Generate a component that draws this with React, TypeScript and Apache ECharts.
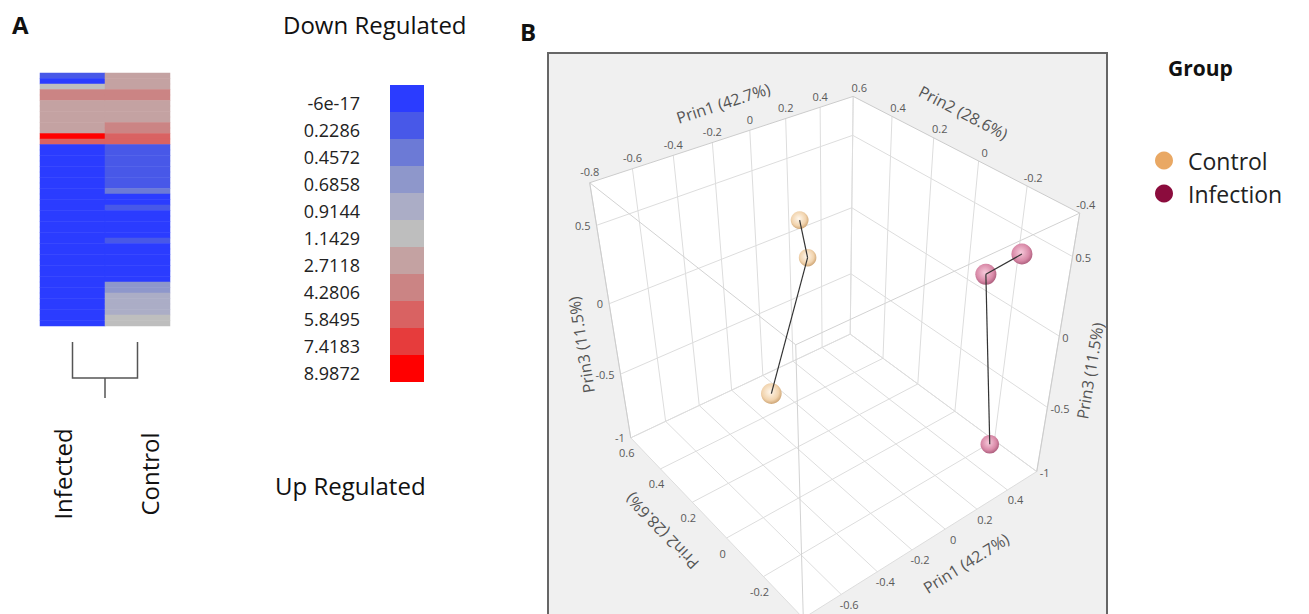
import React, { useEffect, useRef } from 'react';
import * as echarts from 'echarts';

const W = 1309;
const H = 614;
const FONT = 'Open Sans';

// ---------- Panel A data ----------
const heatColumns = ['Infected', 'Control'];
const legendLevels = [-6e-17, 0.2286, 0.4572, 0.6858, 0.9144, 1.1429, 2.7118, 4.2806, 5.8495, 7.4183, 8.9872];
const legendLabels = ['-6e-17', '0.2286', '0.4572', '0.6858', '0.9144', '1.1429', '2.7118', '4.2806', '5.8495', '7.4183', '8.9872'];
const legendColors = ['#2b3cff', '#4858e8', '#6c7ad6', '#8e97cb', '#abadc6', '#bebebe', '#c4a2a2', '#cb8484', '#d96262', '#e63c3c', '#ff0000'];
const infectedValues = [
  0.2286, 0, 1.1429, 4.2806, 4.2806, 2.7118, 2.7118, 2.7118, 2.7118, 2.7118, 2.7118, 8.9872, 5.8495,
  0, 0, 0, 0, 0, 0, 0, 0, 0, 0, 0, 0, 0, 0, 0, 0, 0, 0, 0, 0, 0, 0, 0, 0, 0, 0, 0, 0, 0, 0, 0, 0, 0,
];
const controlValues = [
  2.7118, 2.7118, 2.7118, 4.2806, 4.2806, 2.7118, 2.7118, 2.7118, 2.7118, 4.2806, 4.2806, 5.8495, 5.8495,
  0.2286, 0.2286, 0.2286, 0.2286, 0.2286, 0.2286, 0.2286, 0.2286, 0.4572,
  0, 0, 0.2286, 0, 0, 0, 0, 0, 0.2286, 0, 0, 0, 0, 0, 0, 0,
  0.6858, 0.6858, 0.9144, 0.9144, 0.9144, 0.9144, 1.1429, 1.1429,
];

// ---------- Panel B data ----------
const prin1Ticks = [-0.8, -0.6, -0.4, -0.2, 0, 0.2, 0.4, 0.6];
const prin2Ticks = [-0.4, -0.2, 0, 0.2, 0.4, 0.6];
const prin3Ticks = [-1, -0.5, 0, 0.5];
const prin1Range = [-0.8, 0.6];
const prin2Range = [-0.4, 0.6];
const prin3Range = [-1, 0.75];
const groupNames = ['Control', 'Infection'];
const groupColors = ['#E9A864', '#8B0C3D'];
const controlPrin1 = [0.1, 0.1, -0.6];
const controlPrin2 = [0.44, 0.4, -0.08];
const controlPrin3 = [0.26, 0.04, 0.0];
const infectionPrin1 = [0.35, 0.2, 0.3];
const infectionPrin2 = [-0.36, -0.33, -0.36];
const infectionPrin3 = [0.6, 0.53, -0.62];

// view calibration: where the box corners sit on the page (world -> page pixels)
const viewWorld = [
  [-0.8, 0.6, 0.75], [0.6, 0.6, 0.75], [0.6, -0.4, 0.75], [-0.8, 0.6, -1], [0.6, 0.6, -1], [0.6, -0.4, -1],
  [0.6, 0.6, 0], [-0.8, 0.6, 0], [0.6, -0.4, 0], [0, 0.6, 0.75], [-0.4, 0.6, 0.75], [0.4, 0.6, 0.75], [0.6, 0, 0.75], [0.6, 0.2, 0.75],
];
const viewScreen = [
  [590, 182], [853, 97], [1077, 210], [632, 438], [850, 333], [1037, 473],
  [851, 207], [608, 304], [1058, 336], [749, 131], [673, 155], [820, 108], [985, 164], [933, 137],
];

type Proj = { p: number[]; cx: number; cy: number; s: number };

function fitProjection(world: number[][], screen: number[][]): Proj {
  const cx = 830, cy = 330, s = 250;
  const A: number[][] = [];
  const b: number[] = [];
  world.forEach(([X, Y, Z], i) => {
    const u = (screen[i][0] - cx) / s;
    const v = (screen[i][1] - cy) / s;
    A.push([X, Y, Z, 1, 0, 0, 0, 0, -u * X, -u * Y, -u * Z]);
    b.push(u);
    A.push([0, 0, 0, 0, X, Y, Z, 1, -v * X, -v * Y, -v * Z]);
    b.push(v);
  });
  const n = 11;
  const M: number[][] = [];
  for (let i = 0; i < n; i++) {
    const row = new Array(n + 1).fill(0);
    for (let j = 0; j < n; j++) {
      let acc = 0;
      for (let k = 0; k < A.length; k++) acc += A[k][i] * A[k][j];
      row[j] = acc;
    }
    let t = 0;
    for (let k = 0; k < A.length; k++) t += A[k][i] * b[k];
    row[n] = t;
    M.push(row);
  }
  for (let c = 0; c < n; c++) {
    let piv = c;
    for (let r = c + 1; r < n; r++) if (Math.abs(M[r][c]) > Math.abs(M[piv][c])) piv = r;
    const tmp = M[c]; M[c] = M[piv]; M[piv] = tmp;
    for (let r = 0; r < n; r++) {
      if (r === c) continue;
      const f = M[r][c] / M[c][c];
      for (let k = c; k <= n; k++) M[r][k] -= f * M[c][k];
    }
  }
  return { p: M.map((row, i) => row[n] / row[i]), cx, cy, s };
}

function project(P: Proj, X: number, Y: number, Z: number) {
  const p = P.p;
  const w = p[8] * X + p[9] * Y + p[10] * Z + 1;
  const u = (p[0] * X + p[1] * Y + p[2] * Z + p[3]) / w;
  const v = (p[4] * X + p[5] * Y + p[6] * Z + p[7]) / w;
  return [u * P.s + P.cx, v * P.s + P.cy, w];
}

const App: React.FC = () => {
  const ref = useRef<HTMLDivElement>(null);
  useEffect(() => {
    if (!ref.current) return;
    const chart = echarts.init(ref.current, undefined, { renderer: 'svg' });
    const P = fitProjection(viewWorld, viewScreen);

    const controlPoints = controlPrin1.map((x, i) => [x, controlPrin2[i], controlPrin3[i]]);
    const infectionPoints = infectionPrin1.map((x, i) => [x, infectionPrin2[i], infectionPrin3[i]]);

    const heatData: number[][] = [];
    infectedValues.forEach((v, r) => heatData.push([0, r, v]));
    controlValues.forEach((v, r) => heatData.push([1, r, v]));

    const pieces = legendLevels.map((lv, i) => {
      const piece: any = { label: `{v|${legendLabels[i]}}`, color: legendColors[i] };
      if (i > 0) piece.gte = lv;
      if (i < legendLevels.length - 1) piece.lt = legendLevels[i + 1];
      return piece;
    });

    const z1 = prin3Range[1], z0 = prin3Range[0];
    const x0 = prin1Range[0], x1 = prin1Range[1];
    const y0 = prin2Range[0], y1 = prin2Range[1];

    const renderBox = (params: any, api: any) => {
      const pt = (X: number, Y: number, Z: number) => {
        const q = project(P, X, Y, Z);
        return api.coord([q[0], q[1]]);
      };
      const children: any[] = [];
      const poly = (ps: number[][]) => ({ type: 'polygon', shape: { points: ps }, style: { fill: '#ffffff' }, silent: true });
      const seg = (a: number[], b: number[], stroke: string) => ({
        type: 'line', shape: { x1: a[0], y1: a[1], x2: b[0], y2: b[1] }, style: { stroke, lineWidth: 1 }, silent: true,
      });
      children.push(poly([pt(x0, y1, z0), pt(x1, y1, z0), pt(x1, y1, z1), pt(x0, y1, z1)]));
      children.push(poly([pt(x1, y1, z0), pt(x1, y0, z0), pt(x1, y0, z1), pt(x1, y1, z1)]));
      children.push(poly([pt(x0, y1, z0), pt(x1, y1, z0), pt(x1, y0, z0), pt(x0, y0, z0)]));
      const gridC = '#dddddd';
      prin1Ticks.forEach((t) => {
        children.push(seg(pt(t, y1, z0), pt(t, y1, z1), gridC));
        children.push(seg(pt(t, y1, z0), pt(t, y0, z0), gridC));
      });
      prin2Ticks.forEach((t) => {
        children.push(seg(pt(x1, t, z0), pt(x1, t, z1), gridC));
        children.push(seg(pt(x0, t, z0), pt(x1, t, z0), gridC));
      });
      prin3Ticks.forEach((t) => {
        children.push(seg(pt(x0, y1, t), pt(x1, y1, t), gridC));
        children.push(seg(pt(x1, y1, t), pt(x1, y0, t), gridC));
      });
      const edgeC = '#cccccc';
      children.push(seg(pt(x0, y1, z1), pt(x1, y1, z1), edgeC));
      children.push(seg(pt(x1, y1, z1), pt(x1, y0, z1), edgeC));
      children.push(seg(pt(x0, y1, z0), pt(x0, y1, z1), edgeC));
      children.push(seg(pt(x1, y0, z0), pt(x1, y0, z1), edgeC));
      // front edges of the box frame
      children.push(seg(pt(x0, y0, z0), pt(x0, y0, z1), '#d2d2d2'));
      children.push(seg(pt(x0, y1, z1), pt(x0, y0, z1), '#d2d2d2'));
      children.push(seg(pt(x0, y0, z1), pt(x1, y0, z1), '#d2d2d2'));

      const tick = (p: number[], text: string, align: string) => {
        if (p[1] > H - 8 || p[1] < 8) return null;
        return {
          type: 'text', x: p[0], y: p[1], silent: true,
          style: { text, fill: '#5a5a5a', fontSize: 11, fontFamily: FONT, align, verticalAlign: 'middle' },
        };
      };
      const add = (el: any) => { if (el) children.push(el); };
      prin1Ticks.forEach((t) => {
        if (t === x1) return;
        const p = pt(t, y1, z1);
        add(tick([p[0], p[1] - 11], String(t), 'center'));
        const q = pt(t, y0, z0);
        add(tick([q[0] + 8, q[1] + 10], String(t), 'center'));
      });
      prin2Ticks.forEach((t) => {
        const p = pt(x1, t, z1);
        add(tick([p[0] + 6, p[1] - 9], String(t), 'center'));
        const q = pt(x0, t, z0);
        add(tick([q[0] - 4, q[1] + 15], String(t), 'center'));
      });
      prin3Ticks.forEach((t) => {
        const p = pt(x0, y1, t);
        add(tick([p[0] - 6, p[1]], String(t), 'right'));
        const q = pt(x1, y0, t);
        add(tick([q[0] + 3, q[1] + 1], String(t), 'left'));
      });
      const title = (a: number[], b: number[], f: number, off: number, sign: number, text: string, flip: boolean) => {
        const pa = pt(a[0], a[1], a[2]);
        const pb = pt(b[0], b[1], b[2]);
        const pm = pt(a[0] + (b[0] - a[0]) * f, a[1] + (b[1] - a[1]) * f, a[2] + (b[2] - a[2]) * f);
        const dx = pb[0] - pa[0], dy = pb[1] - pa[1];
        const len = Math.hypot(dx, dy);
        const nx = (dy / len) * sign, ny = (-dx / len) * sign;
        let ang = Math.atan2(-dy, dx);
        if (flip) ang += Math.PI;
        return {
          type: 'text', x: pm[0] + nx * off, y: pm[1] + ny * off, rotation: ang, silent: true,
          style: { text, fill: '#555555', fontSize: 16, fontFamily: FONT, align: 'center', verticalAlign: 'middle' },
        };
      };
      children.push(title([x0, y1, z1], [x1, y1, z1], 0.51, 34, 1, 'Prin1 (42.7%)', false));
      children.push(title([x1, y1, z1], [x1, y0, z1], 0.46, 36, 1, 'Prin2 (28.6%)', false));
      children.push(title([x0, y1, z0], [x0, y1, z1], 0.43, 34, 1, 'Prin3 (11.5%)', false));
      children.push(title([x1, y0, z0], [x1, y0, z1], 0.46, 36, -1, 'Prin3 (11.5%)', false));
      children.push(title([x0, y1, z0], [x0, y0, z0], 0.4, 42, -1, 'Prin2 (28.6%)', true));
      children.push(title([x0, y0, z0], [x1, y0, z0], 0.57, 40, -1, 'Prin1 (42.7%)', false));
      return { type: 'group', children };
    };

    const sphereStyle = [
      ['#fff7ec', '#f1d3ad', '#c79c6a'],
      ['#f7cadb', '#d98aa8', '#a55675'],
    ];
    const renderSphere = (g: number) => (params: any, api: any) => {
      const q = project(P, api.value(0), api.value(1), api.value(2));
      const c = api.coord([q[0], q[1]]);
      const r = 9.5 / q[2];
      const st = sphereStyle[g];
      return {
        type: 'circle', shape: { cx: c[0], cy: c[1], r },
        style: {
          fill: new echarts.graphic.RadialGradient(0.45, 0.42, 0.62, [
            { offset: 0, color: st[0] }, { offset: 0.65, color: st[1] }, { offset: 1, color: st[2] },
          ]),
        },
      };
    };
    const renderLink = (params: any, api: any) => {
      const i = params.dataIndexInside;
      if (i === 0) return null;
      const a = project(P, api.value(0, i - 1), api.value(1, i - 1), api.value(2, i - 1));
      const b = project(P, api.value(0, i), api.value(1, i), api.value(2, i));
      const pa = api.coord([a[0], a[1]]), pb = api.coord([b[0], b[1]]);
      return { type: 'line', shape: { x1: pa[0], y1: pa[1], x2: pb[0], y2: pb[1] }, style: { stroke: '#333333', lineWidth: 1.2 } };
    };

    const hm = { left: 40, top: 73, width: 130, height: 253 };
    const colCenters = [hm.left + hm.width / 4, hm.left + (hm.width * 3) / 4];
    const mid = (colCenters[0] + colCenters[1]) / 2;

    const option: any = {
      animation: false,
      backgroundColor: '#ffffff',
      grid: [
        { left: hm.left, top: hm.top, width: hm.width, height: hm.height },
        { left: 0, top: 0, width: W, height: H },
      ],
      xAxis: [
        { type: 'category', gridIndex: 0, data: heatColumns, show: false },
        { type: 'value', gridIndex: 1, min: 0, max: W, show: false },
      ],
      yAxis: [
        { type: 'category', gridIndex: 0, data: infectedValues.map((_, i) => String(i)), inverse: true, show: false },
        { type: 'value', gridIndex: 1, min: 0, max: H, inverse: true, show: false },
      ],
      visualMap: {
        type: 'piecewise', seriesIndex: 0, dimension: 2, pieces, orient: 'vertical', inverse: true,
        itemWidth: 34, itemHeight: 27, itemGap: 0, itemSymbol: 'rect', align: 'right', textGap: 30,
        right: W - 424, top: 85, padding: 0, selectedMode: false, hoverLink: false,
        textStyle: {
          fontSize: 18, fontFamily: FONT, color: '#222222',
          rich: { v: { fontSize: 18, fontFamily: FONT, color: '#222222', padding: [9, 0, 0, 0] } },
        },
      },
      legend: {
        data: groupNames, orient: 'vertical', left: 1155, top: 149, padding: 0, icon: 'circle',
        itemWidth: 18, itemHeight: 18, itemGap: 10, selectedMode: false,
        textStyle: { fontSize: 23, fontFamily: FONT, color: '#222222', padding: [0, 0, 0, 10] },
      },
      graphic: [
        { type: 'rect', z: 0, shape: { x: 548, y: 53, width: 559, height: 570 }, style: { fill: '#f0f0f0', stroke: '#666666', lineWidth: 2 } },
        { type: 'text', x: 12, y: 24, style: { text: 'A', font: `bold 24px ${FONT}`, fill: '#111', verticalAlign: 'middle' } },
        { type: 'text', x: 520, y: 31, style: { text: 'B', font: `bold 24px ${FONT}`, fill: '#111', verticalAlign: 'middle' } },
        { type: 'text', x: 283, y: 24, style: { text: 'Down Regulated', font: `24px ${FONT}`, fill: '#111', verticalAlign: 'middle' } },
        { type: 'text', x: 275, y: 485, style: { text: 'Up Regulated', font: `24px ${FONT}`, fill: '#111', verticalAlign: 'middle' } },
        { type: 'text', x: 1168, y: 68, style: { text: 'Group', font: `bold 21px ${FONT}`, fill: '#111', verticalAlign: 'middle' } },
        { type: 'text', x: colCenters[0] - 10, y: 474, rotation: Math.PI / 2, style: { text: 'Infected', font: `24px ${FONT}`, fill: '#111', align: 'center', verticalAlign: 'middle' } },
        { type: 'text', x: colCenters[1] + 12, y: 474, rotation: Math.PI / 2, style: { text: 'Control', font: `24px ${FONT}`, fill: '#111', align: 'center', verticalAlign: 'middle' } },
        {
          type: 'polyline', shape: { points: [[colCenters[0], 342], [colCenters[0], 378], [colCenters[1], 378], [colCenters[1], 342]] },
          style: { stroke: '#555555', lineWidth: 1.5, fill: null },
        },
        { type: 'line', shape: { x1: mid, y1: 378, x2: mid, y2: 398 }, style: { stroke: '#555555', lineWidth: 1.5 } },
      ],
      series: [
        { type: 'heatmap', xAxisIndex: 0, yAxisIndex: 0, data: heatData, itemStyle: { borderWidth: 0 }, emphasis: { disabled: true } },
        { type: 'custom', name: 'box', xAxisIndex: 1, yAxisIndex: 1, data: [[0, 0]], renderItem: renderBox, z: 1, silent: true },
        { type: 'custom', name: groupNames[0], xAxisIndex: 1, yAxisIndex: 1, data: controlPoints, renderItem: renderSphere(0), z: 3, itemStyle: { color: groupColors[0] } },
        { type: 'custom', name: groupNames[1], xAxisIndex: 1, yAxisIndex: 1, data: infectionPoints, renderItem: renderSphere(1), z: 3, itemStyle: { color: groupColors[1] } },
        { type: 'custom', name: 'Control link', xAxisIndex: 1, yAxisIndex: 1, data: controlPoints, renderItem: renderLink, z: 4, silent: true },
        { type: 'custom', name: 'Infection link', xAxisIndex: 1, yAxisIndex: 1, data: infectionPoints, renderItem: renderLink, z: 4, silent: true },
      ],
    };
    chart.setOption(option);
    return () => chart.dispose();
  }, []);
  return <div ref={ref} style={{ position: 'fixed', left: 0, top: 0, width: W, height: H, background: '#fff' }} />;
};

export default App;
